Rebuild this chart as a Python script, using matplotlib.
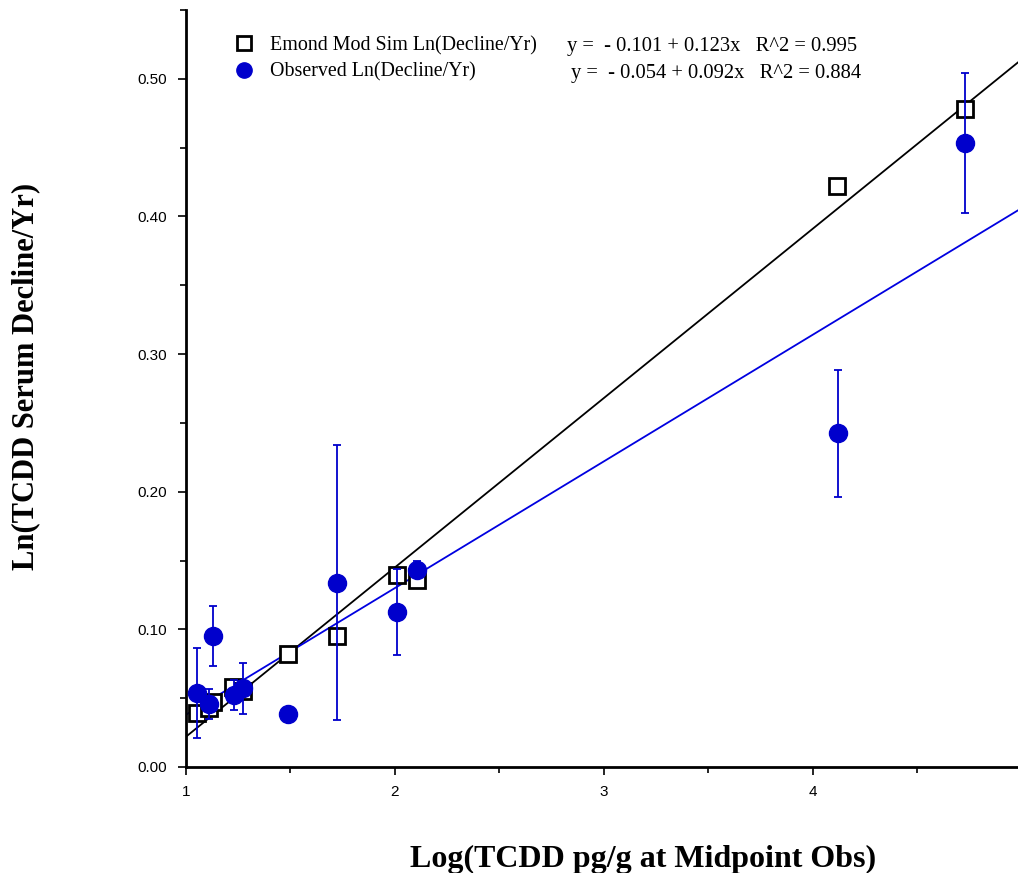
import matplotlib
matplotlib.use("Agg")
import matplotlib.pyplot as plt
import numpy as np
from matplotlib.lines import Line2D
from matplotlib.ticker import MultipleLocator, FormatStrFormatter

# ---- data ----
x_sim = [1.051, 1.110, 1.130, 1.226, 1.271, 1.490, 1.721, 2.011, 2.104, 4.118, 4.729]
y_sim = [0.0389, 0.0426, 0.0470, 0.0580, 0.0550, 0.0818, 0.0953, 0.1398, 0.1360, 0.4224, 0.4780]

x_obs = [1.051, 1.110, 1.131, 1.230, 1.271, 1.490, 1.721, 2.011, 2.104, 4.120, 4.729]
y_obs = [0.0535, 0.0457, 0.0953, 0.0525, 0.0571, 0.0385, 0.1338, 0.1127, 0.1434, 0.2424, 0.4533]
err_obs = [0.0326, 0.011, 0.022, 0.011, 0.0186, 0.0, 0.100, 0.031, 0.006, 0.046, 0.051]

fit_sim = (-0.101, 0.123)   # intercept, slope
fit_obs = (-0.054, 0.092)

label_sim = "Emond Mod Sim Ln(Decline/Yr)"
label_obs = "Observed Ln(Decline/Yr)"
eq_sim = "y =  - 0.101 + 0.123x   R^2 = 0.995"
eq_obs = "y =  - 0.054 + 0.092x   R^2 = 0.884"

xlabel = "Log(TCDD pg/g at Midpoint Obs)"
ylabel = "Ln(TCDD Serum Decline/Yr)"

BLUE = "#0000CC"
LINEBLUE = "#0000E0"

fig = plt.figure(figsize=(10.18, 8.73), dpi=100)
ax = fig.add_axes([186/1018, 106/873, 835.5/1018, 757/873])

xx = np.array([1.0, 5.0])
ax.plot(xx, fit_sim[0] + fit_sim[1]*xx, color="black", lw=1.3, zorder=2)
ax.plot(xx, fit_obs[0] + fit_obs[1]*xx, color=LINEBLUE, lw=1.3, zorder=2)

ax.plot(x_sim, y_sim, linestyle="none", marker="s", markersize=12,
        markerfacecolor="white", markeredgecolor="black", markeredgewidth=2, zorder=3)
ax.errorbar(x_obs, y_obs, yerr=err_obs, fmt="o", color=BLUE, ecolor=BLUE,
            markersize=13, elinewidth=1.3, capsize=2.8, capthick=1.3, zorder=4)

ax.set_xlim(1, 5)
ax.set_ylim(0, 0.55)
ax.xaxis.set_major_locator(MultipleLocator(1))
ax.xaxis.set_minor_locator(MultipleLocator(0.5))
ax.yaxis.set_major_locator(MultipleLocator(0.1))
ax.yaxis.set_minor_locator(MultipleLocator(0.05))
ax.yaxis.set_major_formatter(FormatStrFormatter("%.2f"))
ax.xaxis.set_major_formatter(FormatStrFormatter("%d"))

for s in ["top", "right"]:
    ax.spines[s].set_visible(False)
for s in ["left", "bottom"]:
    ax.spines[s].set_linewidth(2)

ax.tick_params(axis="both", which="major", direction="out", length=6, width=1.2,
               labelsize=11)
ax.tick_params(axis="y", which="major", pad=8)
ax.tick_params(axis="x", which="major", pad=7)
ax.tick_params(axis="both", which="minor", direction="out", length=4, width=1.2)
for lab in ax.get_xticklabels() + ax.get_yticklabels():
    lab.set_fontfamily("Liberation Sans")

ax.set_xlabel(xlabel, fontsize=23, fontweight="bold", family="Liberation Serif")
ax.set_ylabel(ylabel, fontsize=22, fontweight="bold", family="Liberation Serif")
ax.xaxis.set_label_coords(0.547, -0.103)
ax.yaxis.set_label_coords(-0.175, 0.516)

handles = [
    Line2D([], [], linestyle="none", marker="s", markersize=10, markerfacecolor="white",
           markeredgecolor="black", markeredgewidth=2),
    Line2D([], [], linestyle="none", marker="o", markersize=11, color=BLUE),
]
leg = ax.legend(handles, [label_sim, label_obs], loc="upper left",
                bbox_to_anchor=(216/1018, 1 - 18/873), bbox_transform=fig.transFigure,
                frameon=False, handlelength=1.0, handletextpad=0.8, labelspacing=0.36,
                prop={"family": "Liberation Serif", "size": 14.4})

fig.text(567/1018, 1 - 51/873, eq_sim, family="Liberation Serif", fontsize=14.8, va="baseline")
fig.text(571/1018, 1 - 78/873, eq_obs, family="Liberation Serif", fontsize=14.8, va="baseline")

fig.savefig("out.png", dpi=100)
